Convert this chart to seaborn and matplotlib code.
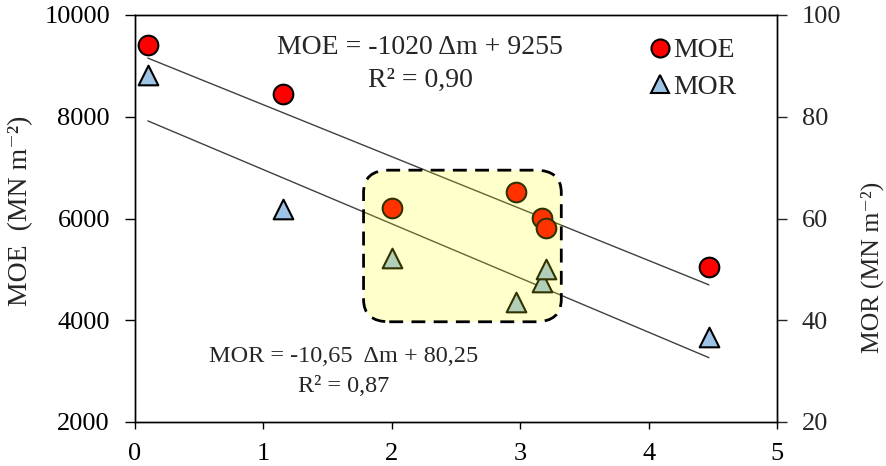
import numpy as np
import pandas as pd
import matplotlib.pyplot as plt
from matplotlib.patches import FancyBboxPatch
from matplotlib.lines import Line2D
import seaborn as sns

# 데이터
dm = [0.10, 1.15, 2.00, 2.97, 3.17, 3.20, 4.47]
moe = [9410, 8450, 6210, 6520, 6010, 5810, 5050]
mor = [88.2, 61.8, 52.3, 43.6, 47.5, 50.1, 36.7]

moe_slope, moe_icpt, moe_r2 = -1020, 9255, "0,90"
mor_slope, mor_icpt, mor_r2 = -10.65, 80.25, "0,87"

df = pd.DataFrame({'dm': dm, 'MOE': moe, 'MOR': mor})

sns.set_style('ticks')
plt.rcParams['font.family'] = ['Liberation Serif', 'DejaVu Serif']
plt.rcParams['axes.linewidth'] = 1.0

fig = plt.figure(figsize=(8.86, 4.66), dpi=100)
ax = fig.add_axes([135/886, 1-422/466, 642/886, 407/466])
ax2 = ax.twinx()

# MOE 원형 마커
sns.scatterplot(data=df, x='dm', y='MOE', ax=ax, marker='o', s=200,
                color='#ff0000', edgecolor='black', linewidth=1.5, zorder=3, legend=False)
xs = np.array([df.dm.min(), df.dm.max()])
ax.plot(xs, moe_slope*xs + moe_icpt, color='#404040', lw=1, zorder=2)

# MOR 삼각형 마커
sns.scatterplot(data=df, x='dm', y='MOR', ax=ax2, marker='^', s=200,
                color='#9dc3e6', edgecolor='black', linewidth=1.5, zorder=3, legend=False)
ax2.plot(xs, mor_slope*xs + mor_icpt, color='#404040', lw=1, zorder=2)

ax.set_xlim(0, 5)
ax.set_ylim(2000, 10000)
ax2.set_ylim(20, 100)
ax.set_xticks([0, 1, 2, 3, 4, 5])
ax.set_yticks([2000, 4000, 6000, 8000, 10000])
ax2.set_yticks([20, 40, 60, 80, 100])
ax.set_xlabel('')
ax.set_ylabel('MOE  (MN m⁻²)', fontsize=20)
ax2.set_ylabel('MOR (MN m⁻²)', fontsize=18.5, rotation=90)
ax.yaxis.set_label_coords(-0.159, 0.52)
ax2.yaxis.set_label_coords(1.130, 0.38)
ax.tick_params(axis='both', direction='out', width=1, labelsize=19, colors='black')
ax.tick_params(axis='x', length=5, pad=10)
ax.tick_params(axis='y', length=7, pad=11)
ax2.tick_params(axis='y', direction='out', length=7, width=1, labelsize=19, pad=11)
for a in (ax, ax2):
    for sp in a.spines.values():
        sp.set_color('black')

# 노란 강조 박스 (반투명 + 점선 테두리)
box_x0, box_x1, box_y0, box_y1 = 1.78, 3.32, 3970, 6950
fill = FancyBboxPatch((box_x0, box_y0), box_x1-box_x0, box_y1-box_y0,
                      boxstyle='round,pad=0,rounding_size=0.2', mutation_aspect=2200,
                      transform=ax.transData, facecolor='#ffff00', alpha=0.2,
                      edgecolor='none', zorder=5)
edge = FancyBboxPatch((box_x0, box_y0), box_x1-box_x0, box_y1-box_y0,
                      boxstyle='round,pad=0,rounding_size=0.2', mutation_aspect=2200,
                      transform=ax.transData, facecolor='none',
                      edgecolor='black', lw=2, linestyle=(0, (5, 3)), zorder=6)
ax2.add_patch(fill)
ax2.add_patch(edge)

# 회귀식 텍스트
fig.text(420/886, 1-48/466, 'MOE = -1020 Δm + 9255', fontsize=20, ha='center', va='center')
fig.text(420/886, 1-80/466, 'R² = ' + moe_r2, fontsize=20, ha='center', va='center')
fig.text(344/886, 1-357/466, 'MOR = -10,65  Δm + 80,25', fontsize=17.5, ha='center', va='center')
fig.text(344/886, 1-386/466, 'R² = ' + mor_r2, fontsize=17.5, ha='center', va='center')

handles = [Line2D([], [], marker='o', ls='', ms=13, mfc='#ff0000', mec='black', mew=1.5),
           Line2D([], [], marker='^', ls='', ms=13, mfc='#9dc3e6', mec='black', mew=1.5)]
ax2.legend(handles, ['MOE', 'MOR'], loc='upper left', bbox_to_anchor=(632/886, 1-24/466),
           bbox_transform=fig.transFigure, frameon=False, fontsize=20,
           handletextpad=0.0, handlelength=1.0, labelspacing=0.4, borderpad=0)

fig.savefig('out.png', dpi=100)
